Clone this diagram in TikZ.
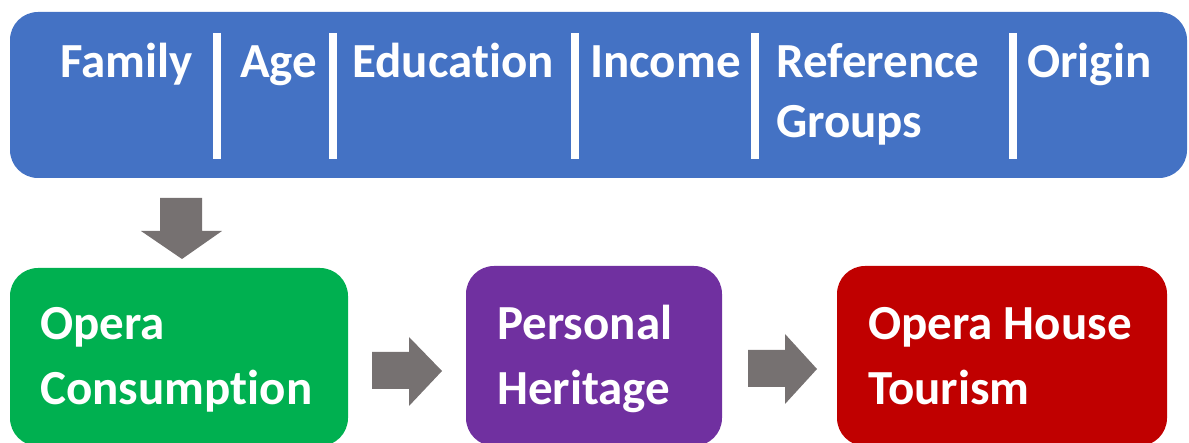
\documentclass[tikz,border=0pt]{standalone}
\usepackage{fontspec}
\setmainfont[Ligatures=NoCommon]{Carlito}

\definecolor{barblue}{HTML}{4472C4}
\definecolor{consgreen}{HTML}{00B050}
\definecolor{herpurple}{HTML}{7030A0}
\definecolor{tourred}{HTML}{C00000}
\definecolor{arrgray}{HTML}{767171}

\begin{document}
\begin{tikzpicture}[x=1pt,y=-1pt,
  box/.style={rounded corners=28pt, inner sep=0pt},
  lbl/.style={anchor=base west, text=white, inner sep=0pt,
    font=\bfseries\fontsize{49}{60}\selectfont},
  sepbar/.style={white, line width=8pt},
  blockarr/.style={fill=arrgray}]
\useasboundingbox (0,0) rectangle (1189,443);

% factor bar
\node[box, fill=barblue, minimum width=1177pt, minimum height=166pt] (factors) at (598.5,95) {};
\node[lbl] (family) at (60,78) {Family};
\node[lbl] (age) at (240,78) {Age};
\node[lbl] (edu) at (352,78) {Education};
\node[lbl] (income) at (590,78) {Income};
\node[lbl] (ref) at (776,78) {Reference};
\node[lbl] (groups) at (776,138) {Groups};
\node[lbl] (origin) at (1027,78) {Origin};
\foreach \x in {217,333,575,755,1013}
  \draw[sepbar] (\x,33) -- (\x,159);

% outcome boxes
\node[box, fill=consgreen, minimum width=338pt, minimum height=178pt] (cons) at (179,357) {};
\node[box, fill=herpurple, minimum width=256pt, minimum height=180pt] (herit) at (594,356) {};
\node[box, fill=tourred, minimum width=330pt, minimum height=180pt] (tour) at (1002,356) {};
\node[lbl] (opera) at (40,340) {Opera};
\node[lbl] (consum) at (40,405) {Consumption};
\node[lbl] (pers) at (497,340) {Personal};
\node[lbl] (herit2) at (497,405) {Heritage};
\node[lbl] (ophouse) at (868,340) {Opera House};
\node[lbl] (tourism) at (868,405) {Tourism};

% block arrows
\fill[blockarr] (160,198) -- (202,198) -- (202,231) -- (222,231) -- (182,259)
  -- (141,231) -- (160,231) -- cycle;
\fill[blockarr] (372,352) -- (409,352) -- (409,337) -- (442,371) -- (409,406)
  -- (409,389) -- (372,389) -- cycle;
\fill[blockarr] (748,350) -- (785,350) -- (785,334) -- (817,369) -- (785,404)
  -- (785,387) -- (748,387) -- cycle;
\end{tikzpicture}
\end{document}
